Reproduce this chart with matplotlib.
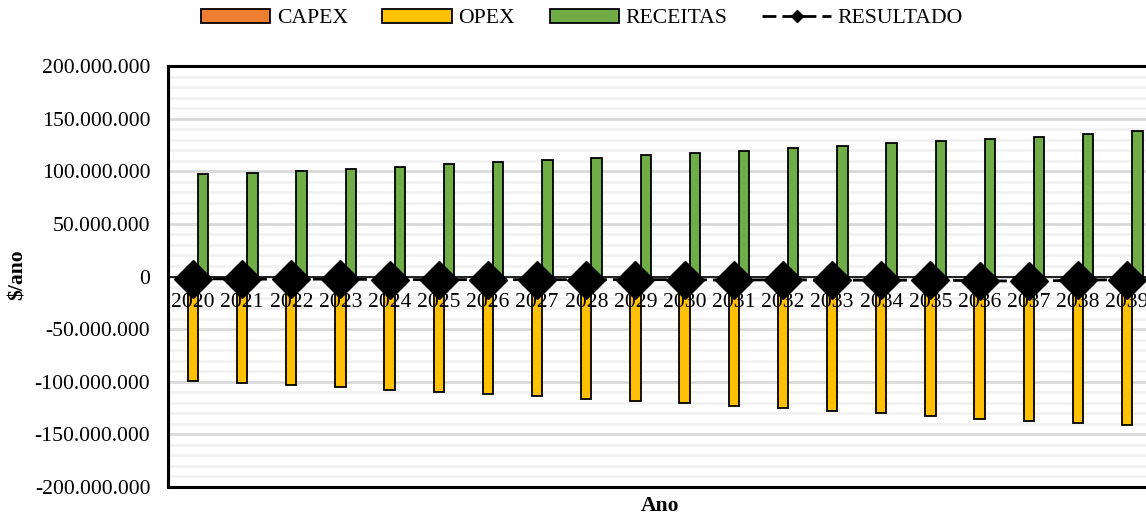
import matplotlib
matplotlib.use("Agg")
import matplotlib.pyplot as plt
import numpy as np
from matplotlib.patches import Patch
from matplotlib.lines import Line2D
from matplotlib.ticker import FuncFormatter, MultipleLocator

# Annual cash flow components ($/ano)
anos = [str(a) for a in range(2020, 2040)]
capex = [0] * 20
opex = [-99.0e6, -101.0e6, -103.0e6, -105.0e6, -107.5e6, -109.5e6, -111.5e6,
        -114.0e6, -116.0e6, -118.5e6, -120.5e6, -123.0e6, -125.0e6, -127.5e6,
        -130.0e6, -132.5e6, -135.0e6, -137.5e6, -139.0e6, -141.0e6]
receitas = [97.0e6, 98.5e6, 100.5e6, 102.5e6, 104.5e6, 106.5e6, 108.5e6,
            111.0e6, 113.0e6, 115.5e6, 117.5e6, 119.5e6, 122.0e6, 124.0e6,
            126.5e6, 129.0e6, 131.0e6, 133.0e6, 135.5e6, 138.0e6]
resultado = [-2.0e6, -2.5e6, -2.5e6, -2.5e6, -3.0e6, -3.0e6, -3.0e6,
             -3.0e6, -3.0e6, -3.0e6, -3.0e6, -3.5e6, -3.0e6, -3.5e6,
             -3.5e6, -3.5e6, -4.0e6, -4.5e6, -3.5e6, -3.0e6]

plt.rcParams['font.family'] = ['Liberation Serif', 'DejaVu Serif']
FS = 15.6

fig = plt.figure(figsize=(11.46, 5.15), dpi=100)
ax = fig.add_axes([168.4 / 1146, 1 - 487 / 515, 983.2 / 1146, (487 - 66) / 515])

x = np.arange(len(anos))
w = 0.21
c_capex, c_opex, c_rec = '#ED7D31', '#FFC000', '#70AD47'
ax.bar(x - w, capex, w, color=c_capex, edgecolor='black', linewidth=1.3, zorder=3)
ax.bar(x, opex, w, color=c_opex, edgecolor='black', linewidth=1.3, zorder=3)
ax.bar(x + w, receitas, w, color=c_rec, edgecolor='black', linewidth=1.3, zorder=3)

ax.axhline(0, color='black', linewidth=1.2, zorder=4)
ax.plot(x, resultado, color='black', linewidth=2.0, dashes=(5, 2.2),
        marker='D', markersize=19, markerfacecolor='black',
        markeredgecolor='black', zorder=6, clip_on=False)

ax.set_xlim(-0.5, len(anos) - 0.5)
ax.set_ylim(-200e6, 200e6)
ax.yaxis.set_major_locator(MultipleLocator(50e6))
ax.yaxis.set_minor_locator(MultipleLocator(10e6))
ax.grid(which='minor', axis='y', color='#f2f2f2', linewidth=2.0, zorder=0)
ax.grid(which='major', axis='y', color='#d9d9d9', linewidth=2.0, zorder=1)
ax.set_axisbelow(True)

def fmt(v, pos):
    if abs(v) < 1:
        return '0'
    s = f"{abs(v):,.0f}".replace(',', '.')
    return ('-' if v < 0 else '') + s

ax.yaxis.set_major_formatter(FuncFormatter(fmt))
ax.tick_params(axis='y', which='both', length=0, pad=13, labelsize=FS)
ax.set_xticks([])

# Category labels sit just under the zero line
for xi, lab in zip(x, anos):
    ax.annotate(lab, (xi, 0), xytext=(0, -12), textcoords='offset points',
                ha='center', va='top', fontsize=FS, zorder=7)

for sp in ax.spines.values():
    sp.set_linewidth(2.2)
    sp.set_color('black')

fig.text(18 / 1146, 1 - 275 / 515, '$/ano', rotation=90, ha='center',
         va='center', fontsize=FS, fontweight='bold')
fig.text(660 / 1146, 1 - 511 / 515, 'Ano', ha='center', va='baseline',
         fontsize=FS, fontweight='bold')

handles = [
    Patch(facecolor=c_capex, edgecolor='black', linewidth=1.3),
    Patch(facecolor=c_opex, edgecolor='black', linewidth=1.3),
    Patch(facecolor=c_rec, edgecolor='black', linewidth=1.3),
    Line2D([0], [0], color='black', linewidth=2.0, dashes=(5, 2.2),
           marker='D', markersize=6, markerfacecolor='black'),
]
labels = ['CAPEX', 'OPEX', 'RECEITAS', 'RESULTADO']
fig.legend(handles, labels, loc='center', bbox_to_anchor=(582 / 1146, 1 - 18.5 / 515),
           ncol=4, frameon=False, fontsize=FS, handlelength=3.2,
           handleheight=0.6, handletextpad=0.3, columnspacing=1.6,
           borderpad=0)

fig.savefig('out.png', dpi=100)
